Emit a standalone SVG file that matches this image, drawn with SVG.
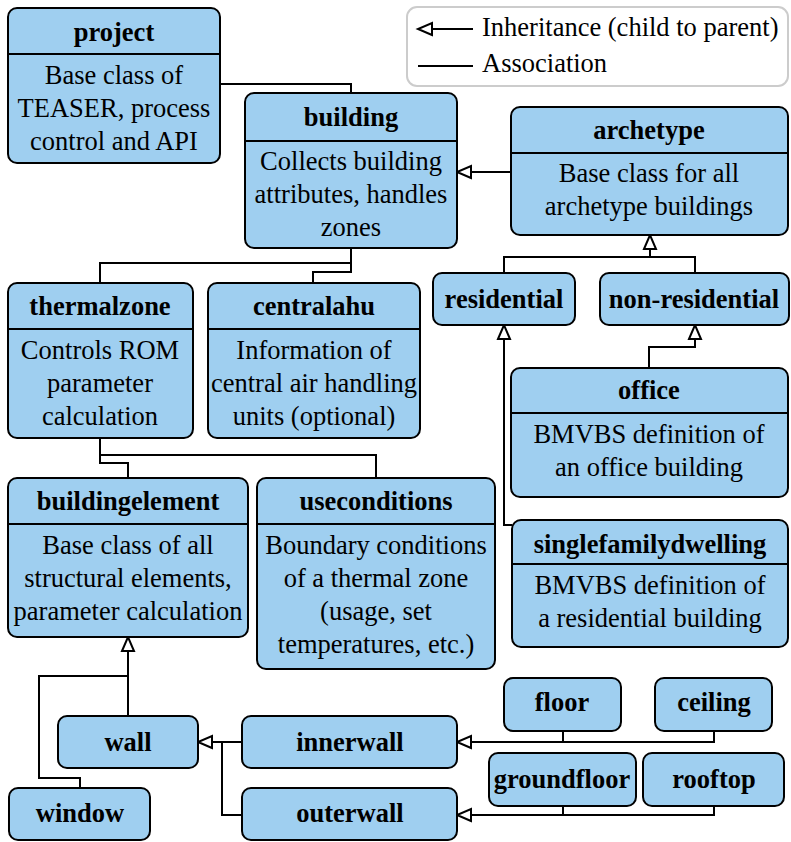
<svg xmlns="http://www.w3.org/2000/svg" width="791" height="842" viewBox="0 0 791 842">
<style>
.box{fill:#9fcff0;stroke:#000;stroke-width:2}
.sep{stroke:#000;stroke-width:2}
text{font-family:'Liberation Serif','DejaVu Serif',serif;font-size:26.5px;fill:#000}
.t{font-weight:bold;text-anchor:middle}
.b{text-anchor:middle}
.c{fill:none;stroke:#000;stroke-width:2}
.ar{marker-end:url(#tri)}
</style>
<defs>
<marker id="tri" markerUnits="userSpaceOnUse" viewBox="-1 -1 16 14" refX="14" refY="6" markerWidth="16" markerHeight="14" orient="auto" overflow="visible">
<path d="M0,0 L14,6 L0,12 Z" fill="#fff" stroke="#000" stroke-width="2" stroke-linejoin="miter"/>
</marker>
</defs>
<g id="legend">
<rect x="407" y="7" width="381" height="79" rx="10" fill="#fff" stroke="#cccccc" stroke-width="2"/>
<path class="c ar" d="M473,29 H418"/>
<text x="482" y="36">Inheritance (child to parent)</text>
<path class="c" d="M418,66 H473"/>
<text x="482" y="72">Association</text>
</g>
<g id="connectors">
<path class="c" d="M220,84 H351 V93"/>
<path class="c" d="M351,248 V263 H100 V283"/>
<path class="c" d="M351,248 V272 H313 V283"/>
<path class="c ar" d="M511,172 H457"/>
<path class="c" d="M504,273 V257 H695 V273"/>
<path class="c ar" d="M650,257 V235"/>
<path class="c ar" d="M649,368 V347 H695 V325"/>
<path class="c ar" d="M512,525 H504 V325"/>
<path class="c" d="M100,438 V455 H376 V478"/>
<path class="c" d="M100,438 V463 H128 V478"/>
<path class="c ar" d="M128,716 V637"/>
<path class="c" d="M80,788 V778 H39 V676 H128"/>
<path class="c ar" d="M242,742 H198"/>
<path class="c" d="M242,815 H222 V742"/>
<path class="c ar" d="M563,731 V742 H457"/>
<path class="c" d="M714,731 V742 H563"/>
<path class="c ar" d="M563,806 V815 H457"/>
<path class="c" d="M714,806 V815 H563"/>
</g>
<g id="project">
<rect class="box" x="8" y="8" width="212" height="155" rx="9"/>
<line class="sep" x1="8" y1="54" x2="220" y2="54"/>
<text class="t" x="114" y="41">project</text>
<text class="b" x="114" y="84">Base class of</text>
<text class="b" x="114" y="117">TEASER, process</text>
<text class="b" x="114" y="150">control and API</text>
</g>
<g id="building">
<rect class="box" x="245" y="93" width="212" height="155" rx="9"/>
<line class="sep" x1="245" y1="141" x2="457" y2="141"/>
<text class="t" x="351" y="126">building</text>
<text class="b" x="351" y="170">Collects building</text>
<text class="b" x="351" y="203">attributes, handles</text>
<text class="b" x="351" y="236">zones</text>
</g>
<g id="archetype">
<rect class="box" x="511" y="107" width="277" height="128" rx="9"/>
<line class="sep" x1="511" y1="153" x2="788" y2="153"/>
<text class="t" x="649" y="139">archetype</text>
<text class="b" x="649" y="182">Base class for all</text>
<text class="b" x="649" y="215">archetype buildings</text>
</g>
<g id="thermalzone">
<rect class="box" x="8" y="283" width="185" height="155" rx="9"/>
<line class="sep" x1="8" y1="329" x2="193" y2="329"/>
<text class="t" x="100" y="315">thermalzone</text>
<text class="b" x="100" y="359">Controls ROM</text>
<text class="b" x="100" y="392">parameter</text>
<text class="b" x="100" y="425">calculation</text>
</g>
<g id="centralahu">
<rect class="box" x="208" y="283" width="212" height="155" rx="9"/>
<line class="sep" x1="208" y1="329" x2="420" y2="329"/>
<text class="t" x="314" y="315">centralahu</text>
<text class="b" x="314" y="359">Information of</text>
<text class="b" x="314" y="392">central air handling</text>
<text class="b" x="314" y="425">units (optional)</text>
</g>
<g id="residential">
<rect class="box" x="433" y="273" width="142" height="52" rx="9"/>
<text class="t" x="504" y="308">residential</text>
</g>
<g id="non-residential">
<rect class="box" x="600" y="273" width="189" height="52" rx="9"/>
<text class="t" x="694" y="308">non-residential</text>
</g>
<g id="office">
<rect class="box" x="511" y="368" width="277" height="129" rx="9"/>
<line class="sep" x1="511" y1="413" x2="788" y2="413"/>
<text class="t" x="649" y="399">office</text>
<text class="b" x="649" y="443">BMVBS definition of</text>
<text class="b" x="649" y="476">an office building</text>
</g>
<g id="buildingelement">
<rect class="box" x="8" y="478" width="240" height="159" rx="9"/>
<line class="sep" x1="8" y1="524" x2="248" y2="524"/>
<text class="t" x="128" y="510">buildingelement</text>
<text class="b" x="128" y="554">Base class of all</text>
<text class="b" x="128" y="587">structural elements,</text>
<text class="b" x="128" y="620">parameter calculation</text>
</g>
<g id="useconditions">
<rect class="box" x="257" y="478" width="238" height="191" rx="9"/>
<line class="sep" x1="257" y1="524" x2="495" y2="524"/>
<text class="t" x="376" y="510">useconditions</text>
<text class="b" x="376" y="554">Boundary conditions</text>
<text class="b" x="376" y="587">of a thermal zone</text>
<text class="b" x="376" y="620">(usage, set</text>
<text class="b" x="376" y="653">temperatures, etc.)</text>
</g>
<g id="singlefamilydwelling">
<rect class="box" x="512" y="520" width="276" height="127" rx="9"/>
<line class="sep" x1="512" y1="564" x2="788" y2="564"/>
<text class="t" x="650" y="553">singlefamilydwelling</text>
<text class="b" x="650" y="594">BMVBS definition of</text>
<text class="b" x="650" y="627">a residential building</text>
</g>
<g id="wall">
<rect class="box" x="58" y="716" width="140" height="52" rx="9"/>
<text class="t" x="128" y="751">wall</text>
</g>
<g id="window">
<rect class="box" x="9" y="788" width="141" height="52" rx="9"/>
<text class="t" x="80" y="822">window</text>
</g>
<g id="innerwall">
<rect class="box" x="242" y="716" width="215" height="52" rx="9"/>
<text class="t" x="350" y="751">innerwall</text>
</g>
<g id="outerwall">
<rect class="box" x="242" y="788" width="215" height="52" rx="9"/>
<text class="t" x="350" y="822">outerwall</text>
</g>
<g id="floor">
<rect class="box" x="504" y="678" width="117" height="53" rx="9"/>
<text class="t" x="562" y="711">floor</text>
</g>
<g id="ceiling">
<rect class="box" x="655" y="678" width="117" height="53" rx="9"/>
<text class="t" x="714" y="711">ceiling</text>
</g>
<g id="groundfloor">
<rect class="box" x="489" y="753" width="147" height="53" rx="9"/>
<text class="t" x="562" y="788">groundfloor</text>
</g>
<g id="rooftop">
<rect class="box" x="643" y="753" width="141" height="53" rx="9"/>
<text class="t" x="714" y="788">rooftop</text>
</g>
</svg>
